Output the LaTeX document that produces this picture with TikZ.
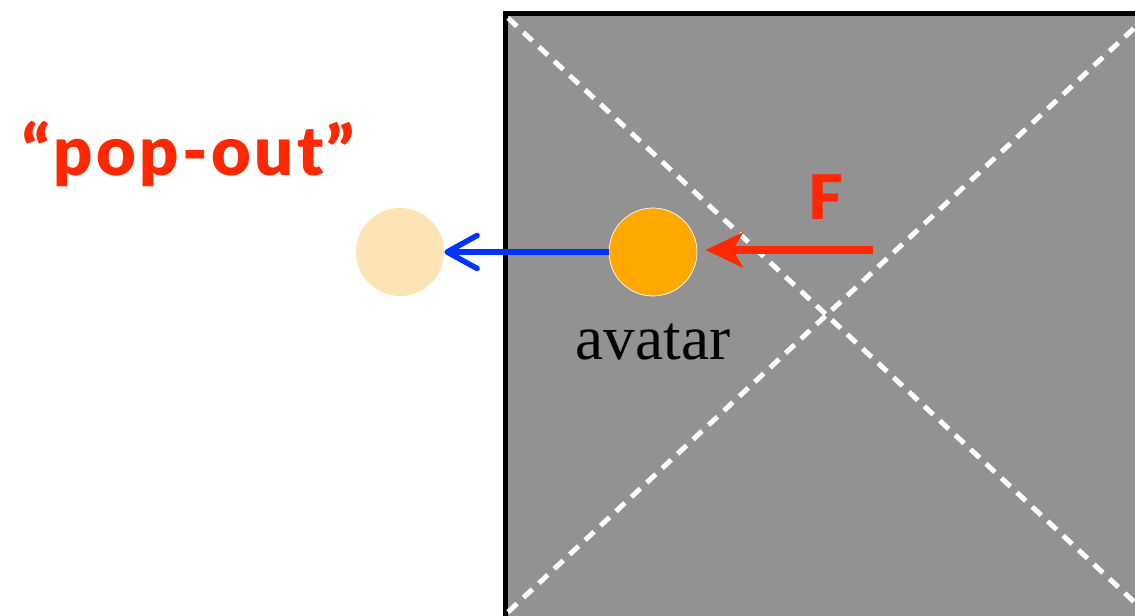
\documentclass[tikz,border=0pt]{standalone}
\usepackage{fontspec}
\setmainfont{Liberation Serif}
\newfontfamily\popfont{Lato}[BoldFont={Lato Black}, LetterSpace=5]
\usetikzlibrary{arrows.meta, positioning}
\definecolor{boxgray}{RGB}{146,146,146}
\definecolor{forcered}{RGB}{255,40,0}
\definecolor{popblue}{RGB}{0,51,255}
\definecolor{avorange}{RGB}{255,168,0}
\definecolor{ghostorange}{RGB}{253,228,183}

\begin{document}
\begin{tikzpicture}[
  x=0.02cm, y=-0.02cm,
  ball/.style   = {circle, inner sep=0pt, minimum size=1.76cm},
  diag/.style   = {draw=white, line width=0.1cm, dash pattern=on 7pt off 5pt},
  redtxt/.style = {text=forcered, inner sep=0pt},
  push/.style   = {draw=forcered, line width=0.15cm,
                   -{Stealth[length=7.5mm, width=7mm, inset=2mm]}},
  pop/.style    = {draw=popblue, line width=0.11cm,
                   -{Straight Barb[length=6mm, width=6.6mm, round]}},
]
\useasboundingbox (0,0) rectangle (1135,615);
\clip (0,0) rectangle (1135,615);

% the wall region
\draw[line width=0.1cm, fill=boxgray] (505,13.5) rectangle (1160,618);
\draw[diag] (508,18) -- (1145,612);
\draw[diag] (508,612) -- (1145,18);

% avatar and where it ends up
\node[ball, fill=avorange, draw=white, line width=0.4pt] (avatar) at (653,252) {};
\node[ball, fill=ghostorange] (ghost) at (400,252) {};
\node[font=\fontsize{36}{36}\selectfont, below=0.42cm of avatar] (avlabel) {avatar};

\coordinate (fstart) at (873,250);
\node[redtxt, font=\popfont\bfseries\fontsize{35}{35}\selectfont] (flabel) at (826,197) {F};
\node[redtxt, font=\popfont\bfseries\fontsize{39}{39}\selectfont, anchor=west] (popout) at (22,154) {“pop-out”};

\draw[push] (fstart) -- ([xshift=0.16cm]avatar.east |- fstart);
\draw[pop] (avatar.west) -- (ghost.east);

\end{tikzpicture}
\end{document}
